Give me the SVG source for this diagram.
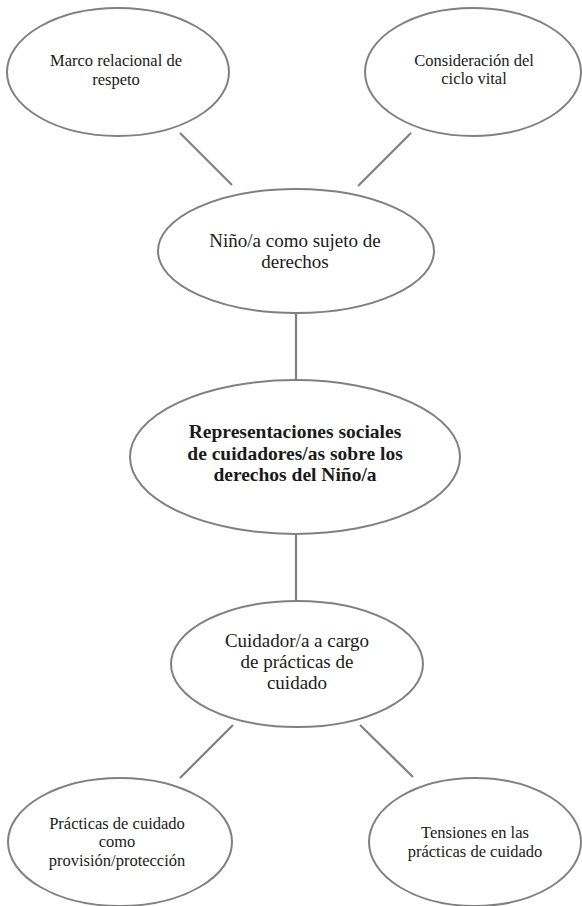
<svg xmlns="http://www.w3.org/2000/svg" width="582" height="906" viewBox="0 0 582 906">
<style>
.node ellipse{fill:#ffffff;stroke:#808080;stroke-width:2}
.conn line{stroke:#808080;stroke-width:2.2}
text{font-family:"Liberation Serif","Times New Roman",serif;fill:#1a1a1a;text-anchor:middle}
.s{font-size:16.5px}
.m{font-size:19px}
.b{font-size:19.5px;font-weight:bold}
</style>
<rect width="582" height="906" fill="#ffffff"/>
<g id="connectors" class="conn">
<line x1="180" y1="133" x2="232" y2="185"/>
<line x1="411" y1="133" x2="358" y2="186"/>
<line x1="296" y1="313" x2="296" y2="380"/>
<line x1="296" y1="534" x2="296" y2="601"/>
<line x1="233" y1="725" x2="180" y2="778"/>
<line x1="360" y1="725" x2="413" y2="777"/>
</g>
<g id="marco" class="node">
<ellipse cx="118" cy="72" rx="111" ry="64"/>
<text class="s" x="116" y="66">Marco relacional de</text>
<text class="s" x="116" y="84.5">respeto</text>
</g>
<g id="ciclo" class="node">
<ellipse cx="473" cy="72" rx="108" ry="64"/>
<text class="s" x="474" y="65.5">Consideración del</text>
<text class="s" x="474" y="84">ciclo vital</text>
</g>
<g id="nino" class="node">
<ellipse cx="296" cy="251" rx="138" ry="62"/>
<text class="m" x="295" y="246.5">Niño/a como sujeto de</text>
<text class="m" x="295" y="267.5">derechos</text>
</g>
<g id="central" class="node">
<ellipse cx="295" cy="457" rx="165" ry="77"/>
<text class="b" x="295" y="438">Representaciones sociales</text>
<text class="b" x="295" y="459.5">de cuidadores/as sobre los</text>
<text class="b" x="295" y="481">derechos del Niño/a</text>
</g>
<g id="cuidador" class="node">
<ellipse cx="297" cy="664" rx="126" ry="63"/>
<text class="m" x="297" y="646.5">Cuidador/a a cargo</text>
<text class="m" x="297" y="667.5">de prácticas de</text>
<text class="m" x="297" y="688.5">cuidado</text>
</g>
<g id="practicas" class="node">
<ellipse cx="120" cy="842" rx="112" ry="64"/>
<text class="s" x="117" y="828.5">Prácticas de cuidado</text>
<text class="s" x="117" y="847">como</text>
<text class="s" x="117" y="865.5">provisión/protección</text>
</g>
<g id="tensiones" class="node">
<ellipse cx="475" cy="842" rx="106" ry="64"/>
<text class="s" x="475" y="838">Tensiones en las</text>
<text class="s" x="475" y="856.5">prácticas de cuidado</text>
</g>
</svg>
